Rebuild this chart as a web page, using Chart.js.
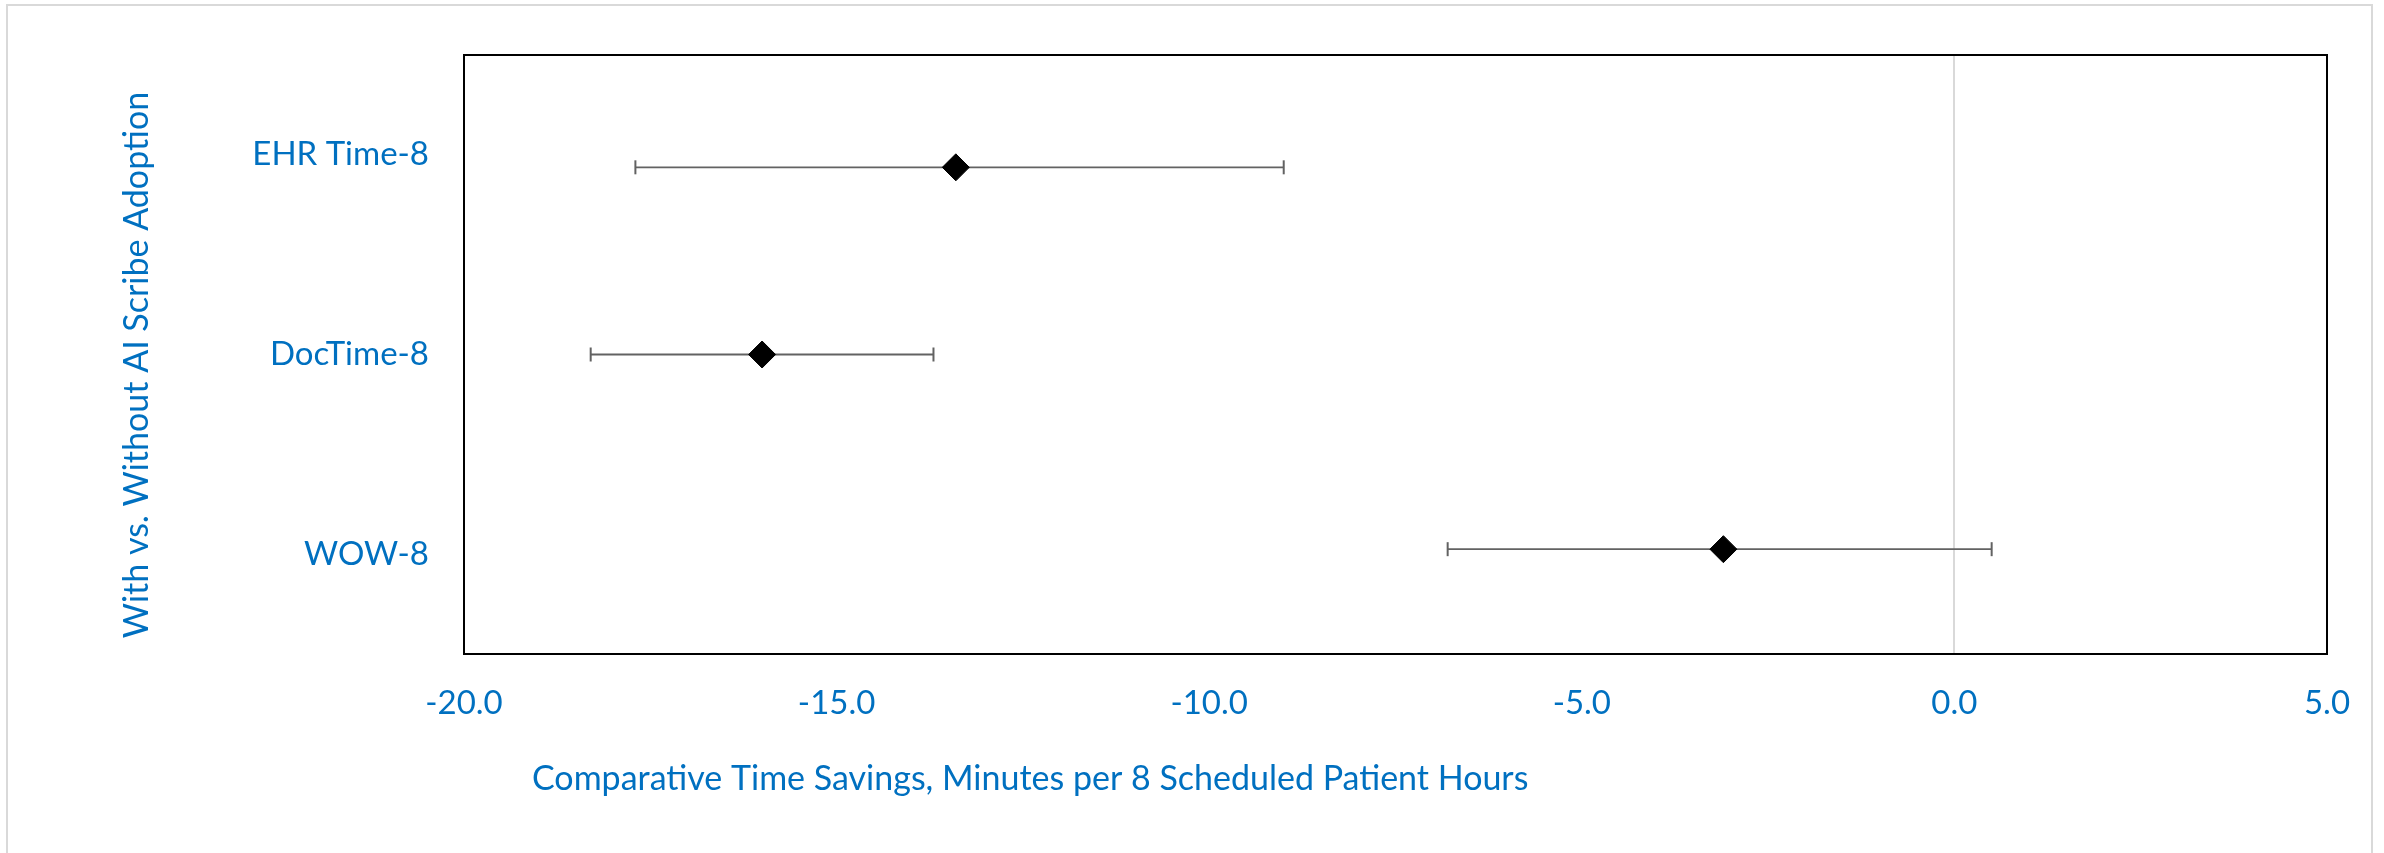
<!DOCTYPE html>
<html>
<head>
<meta charset="utf-8">
<script src="https://cdn.jsdelivr.net/npm/chart.js@4.4.1/dist/chart.umd.min.js"></script>
<style>
  html, body { margin: 0; padding: 0; background: #fff; }
  #wrap { width: 2384px; height: 853px; }
</style>
</head>
<body>
<div id="wrap"><canvas id="chart" width="2384" height="853"></canvas></div>
<script>
// Data
const categories = ['EHR Time-8', 'DocTime-8', 'WOW-8'];
const meanValues = [-13.4, -16.0, -3.1];
const ciLow = [-17.7, -18.3, -6.8];
const ciHigh = [-9.0, -13.7, 0.5];
const rowPos = [2.6, 1.6, 0.56];
const xTicks = [-20, -15, -10, -5, 0, 5];

const xTitle = 'Comparative Time Savings, Minutes per 8 Scheduled Patient Hours';
const yTitle = 'With vs. Without AI Scribe Adoption';

const blue = '#0070C0';
const barGray = '#626262';
const fontName = 'Lato';

// marker dataset first so it sits on top of the whiskers
const datasets = [{
    data: meanValues.map((v, i) => ({ x: v, y: rowPos[i] })),
    yAxisID: 'y1',
    pointStyle: 'rectRot',
    pointRadius: 13.5,
    pointBackgroundColor: '#000',
    pointBorderColor: '#000',
    pointBorderWidth: 1,
    showLine: false
}];
categories.forEach(function(c, i) {
    datasets.push({
        data: [{ x: ciLow[i], y: rowPos[i] }, { x: ciHigh[i], y: rowPos[i] }],
        yAxisID: 'y1',
        showLine: true,
        borderColor: barGray,
        borderWidth: 1.8,
        pointStyle: 'line',
        pointRotation: 90,
        pointRadius: 7,
        pointBorderColor: barGray,
        pointBorderWidth: 2
    });
});

// outer frame, plot frame and axis titles
const decor = {
    id: 'decor',
    beforeDraw(chart) {
        const ctx = chart.ctx;
        ctx.save();
        ctx.strokeStyle = '#d9d9d9';
        ctx.lineWidth = 2;
        ctx.strokeRect(7, 5, 2365, 880);
        ctx.restore();
    },
    afterDraw(chart) {
        const ctx = chart.ctx;
        const a = chart.chartArea;
        ctx.save();
        ctx.strokeStyle = '#000';
        ctx.lineWidth = 2;
        ctx.strokeRect(a.left, a.top, a.right - a.left, a.bottom - a.top);

        ctx.fillStyle = blue;
        ctx.font = '34px ' + fontName;
        ctx.textBaseline = 'alphabetic';
        ctx.textAlign = 'left';
        ctx.fillText(xTitle, 532, 790);

        ctx.translate(148, 365);
        ctx.rotate(-Math.PI / 2);
        ctx.textAlign = 'center';
        ctx.fillText(yTitle, 0, 0);
        ctx.restore();
    }
};

new Chart(document.getElementById('chart').getContext('2d'), {
    type: 'scatter',
    data: { datasets: datasets },
    plugins: [decor],
    options: {
        responsive: false,
        animation: false,
        devicePixelRatio: 1,
        layout: { padding: { top: 55, right: 57, left: 0, bottom: 0 } },
        plugins: {
            legend: { display: false },
            tooltip: { enabled: false }
        },
        scales: {
            x: {
                type: 'linear',
                min: -20,
                max: 5,
                afterBuildTicks: function(s) {
                    s.ticks = xTicks.map(v => ({ value: v }));
                },
                afterFit: function(s) { s.height = 199; },
                ticks: {
                    color: blue,
                    font: { family: fontName, size: 33 },
                    padding: 30,
                    maxRotation: 0,
                    callback: v => Number(v).toFixed(1)
                },
                grid: {
                    drawTicks: false,
                    lineWidth: 2,
                    color: ctx => (ctx.tick && ctx.tick.value === 0) ? '#d9d9d9' : 'rgba(0,0,0,0)'
                },
                border: { display: false }
            },
            y: {
                type: 'category',
                labels: categories,
                position: 'left',
                offset: true,
                afterFit: function(s) { s.width = 464; },
                ticks: {
                    color: blue,
                    font: { family: fontName, size: 33 },
                    padding: 35
                },
                grid: { display: false, drawTicks: false },
                border: { display: false }
            },
            y1: {
                type: 'linear',
                min: 0,
                max: 3.2,
                display: false
            }
        }
    }
});
</script>
</body>
</html>
